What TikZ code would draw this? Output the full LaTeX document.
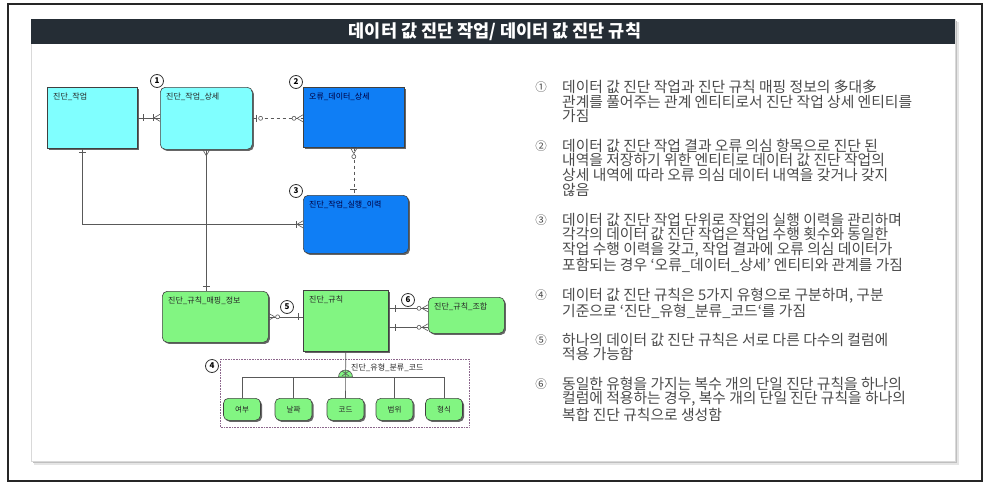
\documentclass[tikz,border=0pt]{standalone}
\usepackage{fontspec}
\setmainfont{Noto Sans CJK KR}
\usetikzlibrary{shadows,calc}
\definecolor{headc}{HTML}{252D35}
\definecolor{cyanE}{HTML}{80FFFF}
\definecolor{blueE}{HTML}{0F7EF5}
\definecolor{greenE}{HTML}{82F582}
\definecolor{txtg}{HTML}{4A4A4A}
\definecolor{edgec}{HTML}{404040}
\tikzset{
  pics/crowft/.style={code={\draw[mk] (-6,0)--(0,-3.5) (-6,0)--(0,3.5);}},
  pics/tickm/.style={code={\draw[mk] (0,-3.5)--(0,3.5);}},
  pics/ocircm/.style={code={\draw[mk, fill=white] (0,0) circle[radius=2pt];}},
}
\begin{document}
\begin{tikzpicture}[x=1pt,y=-1pt,
  ent/.style={draw=edgec, line width=0.6pt, anchor=north west, inner sep=0pt,
    drop shadow={shadow xshift=1.6pt, shadow yshift=-1.6pt, fill=black!60, opacity=1}},
  rent/.style={ent, rounded corners=5pt},
  elab/.style={font=\fontsize{8}{9}\selectfont, text=black!85, inner sep=0pt, anchor=north west},
  blab/.style={elab, text=black!75!blue},
  badge/.style={circle, draw=black!80, line width=0.8pt, fill=white, inner sep=0pt, minimum size=13pt, font=\fontsize{8}{8}\selectfont\bfseries},
  conn/.style={draw=black!65, line width=0.6pt},
  mk/.style={draw=black!65, line width=0.6pt},
  itemtxt/.style={font=\fontsize{14.8}{14.7}\selectfont, text=txtg, align=left, anchor=north west, inner sep=0pt},
  itemnum/.style={font=\fontsize{11.5}{11.5}\selectfont, text=txtg, inner sep=0pt},
  subbox/.style={rent, fill=greenE, minimum width=37pt, minimum height=22pt, anchor=north, font=\fontsize{7.5}{8}\selectfont, text=black!85}
]
\useasboundingbox (0,0) rectangle (996,485);
\fill[white] (0,0) rectangle (996,485);
\draw[line width=1.2pt, draw=black!85] (8,4) rectangle (982,481);
% card
\fill[black!10] (34,22) rectangle (958.5,464.5);
\fill[black!25] (33,21) rectangle (957,463);
\filldraw[fill=white, draw=black!15] (31,19) rectangle (955,461);
\fill[headc] (31,19) rectangle (955,44);
\node[font=\fontsize{17.5}{17.5}\selectfont\bfseries, text=white] (title) at (495,31.5) {데이터 값 진단 작업/ 데이터 값 진단 규칙};

% entities
\node[ent, fill=cyanE, minimum width=90pt, minimum height=61pt] (jakup) at (47,87) {};
\node[rent, fill=cyanE, minimum width=92pt, minimum height=62pt] (sangse) at (160,87) {};
\node[ent, fill=blueE, minimum width=101pt, minimum height=60pt] (oryu) at (303,87) {};
\node[rent, fill=blueE, minimum width=105pt, minimum height=58pt] (iryeok) at (303,195) {};
\node[rent, fill=greenE, minimum width=106pt, minimum height=51pt] (maping) at (162,291) {};
\node[ent, fill=greenE, minimum width=85pt, minimum height=61pt] (gyuchik) at (303,290) {};
\node[rent, fill=greenE, minimum width=76pt, minimum height=36pt] (johap) at (428,297) {};

\node[elab] (ljakup) at ($(jakup.north west)+(6,6)$) {진단\_작업};
\node[elab] (lsangse) at ($(sangse.north west)+(6,6)$) {진단\_작업\_상세};
\node[blab] (loryu) at ($(oryu.north west)+(6,6)$) {오류\_데이터\_상세};
\node[blab] (liryeok) at ($(iryeok.north west)+(6,6)$) {진단\_작업\_실행\_이력};
\node[elab] (lmaping) at ($(maping.north west)+(6,6)$) {진단\_규칙\_매핑\_정보};
\node[elab] (lgyuchik) at ($(gyuchik.north west)+(6,6)$) {진단\_규칙};
\node[elab] (ljohap) at ($(johap.north west)+(6,6)$) {진단\_규칙\_조합};

% connectors
\draw[conn] (jakup.east) -- (jakup.east -| sangse.west);
\pic at ($(jakup.east)+(6,0)$) {tickm};
\pic at (jakup.east -| sangse.west) {crowft};
\pic at ($(jakup.east -| sangse.west)+(-7,0)$) {tickm};

\draw[conn, dashed] (sangse.east) -- (sangse.east -| oryu.west);
\pic at ($(sangse.east)+(4,0)$) {tickm};
\pic at ($(sangse.east)+(8,0)$) {ocircm};
\pic at (sangse.east -| oryu.west) {crowft};
\pic at ($(sangse.east -| oryu.west)+(-9,0)$) {ocircm};

\draw[conn, dashed] (oryu.south) -- (oryu.south |- iryeok.north);
\pic[rotate=90] at (oryu.south) {crowft};
\pic at ($(oryu.south)+(0,9)$) {ocircm};
\pic[rotate=90] at ($(oryu.south |- iryeok.north)+(0,-6)$) {tickm};

\coordinate (jb) at ([xshift=-10pt]jakup.south);
\draw[conn] (jb) |- (iryeok.west);
\pic[rotate=90] at ($(jb)+(0,4)$) {tickm};
\pic at (iryeok.west) {crowft};
\pic at ($(iryeok.west)+(-7,0)$) {tickm};

\draw[conn] (sangse.south) -- (sangse.south |- maping.north);
\pic[rotate=90] at (sangse.south) {crowft};
\pic[rotate=90] at ($(sangse.south |- maping.north)+(0,-5)$) {tickm};

\draw[conn] (maping.east) -- (maping.east -| gyuchik.west);
\pic[rotate=180] at (maping.east) {crowft};
\pic at ($(maping.east)+(9,0)$) {ocircm};
\pic at ($(maping.east -| gyuchik.west)+(-5,0)$) {tickm};

\coordinate (g1) at ([yshift=12.5pt]gyuchik.east);
\coordinate (g2) at ([yshift=-6.5pt]gyuchik.east);
\draw[conn] (g1) -- (g1 -| johap.west);
\draw[conn] (g2) -- (g2 -| johap.west);
\pic at ($(g1)+(7,0)$) {tickm};
\pic at ($(g2)+(7,0)$) {tickm};
\pic at (g1 -| johap.west) {crowft};
\pic at (g2 -| johap.west) {crowft};
\pic at ($(g1 -| johap.west)+(-9,0)$) {ocircm};
\pic at ($(g2 -| johap.west)+(-9,0)$) {ocircm};

% subtypes
\draw[densely dotted, draw=black!50!violet!60, line width=0.6pt] (220,359) rectangle (469,427);
\node[subbox] (s1) at (242,398) {여부};
\node[subbox] (s2) at (293.5,398) {날짜};
\node[subbox] (s3) at (345.5,398) {코드};
\node[subbox] (s4) at (394.5,398) {범위};
\node[subbox] (s5) at (444,398) {형식};
\coordinate (sx) at (345.5,377);
\draw[conn] (s1.north) -- (s1.north |- sx) -- (s5.north |- sx) -- (s5.north);
\draw[conn] (s2.north) -- (s2.north |- sx);
\draw[conn] (s4.north) -- (s4.north |- sx);
\draw[conn, fill=greenE] ($(sx)+(-7,0)$) arc[start angle=180, end angle=0, radius=7pt] -- cycle;
\draw[conn] (gyuchik.south) -- (s3.north);
\draw[conn] ($(sx)+(-3.5,-1)$) -- ($(sx)+(3.5,-6)$) ($(sx)+(-3.5,-6)$) -- ($(sx)+(3.5,-1)$);
\node[elab, anchor=west] (stype) at (351,368) {진단\_유형\_분류\_코드};

% badges
\node[badge] (b1) at (157,81) {1};
\node[badge] (b2) at (296,82) {2};
\node[badge] (b3) at (296,191) {3};
\node[badge] (b4) at (212,366) {4};
\node[badge] (b5) at (287,307) {5};
\node[badge] (b6) at (408,300) {6};

% right text
\node[itemnum] (n1) at (541,87) {①};
\node[itemtxt] (t1) at (562,79.7) {데이터 값 진단 작업과 진단 규칙 매핑 정보의 多대多\\관계를 풀어주는 관계 엔티티로서 진단 작업 상세 엔티티를\\가짐};
\node[itemnum] (n2) at (541,146) {②};
\node[itemtxt] (t2) at (562,138.7) {데이터 값 진단 작업 결과 오류 의심 항목으로 진단 된\\내역을 저장하기 위한 엔티티로 데이터 값 진단 작업의\\상세 내역에 따라 오류 의심 데이터 내역을 갖거나 갖지\\않음};
\node[itemnum] (n3) at (541,220) {③};
\node[itemtxt] (t3) at (562,212.7) {데이터 값 진단 작업 단위로 작업의 실행 이력을 관리하며\\각각의 데이터 값 진단 작업은 작업 수행 횟수와 동일한\\작업 수행 이력을 갖고, 작업 결과에 오류 의심 데이터가\\포함되는 경우 ‘오류\_데이터\_상세’ 엔티티와 관계를 가짐};
\node[itemnum] (n4) at (541,295) {④};
\node[itemtxt] (t4) at (562,287.7) {데이터 값 진단 규칙은 5가지 유형으로 구분하며, 구분\\기준으로 ‘진단\_유형\_분류\_코드‘를 가짐};
\node[itemnum] (n5) at (541,340) {⑤};
\node[itemtxt] (t5) at (562,332.7) {하나의 데이터 값 진단 규칙은 서로 다른 다수의 컬럼에\\적용 가능함};
\node[itemnum] (n6) at (541,384) {⑥};
\node[itemtxt] (t6) at (562,376.7) {동일한 유형을 가지는 복수 개의 단일 진단 규칙을 하나의\\컬럼에 적용하는 경우, 복수 개의 단일 진단 규칙을 하나의\\복합 진단 규칙으로 생성함};
\end{tikzpicture}
\end{document}
